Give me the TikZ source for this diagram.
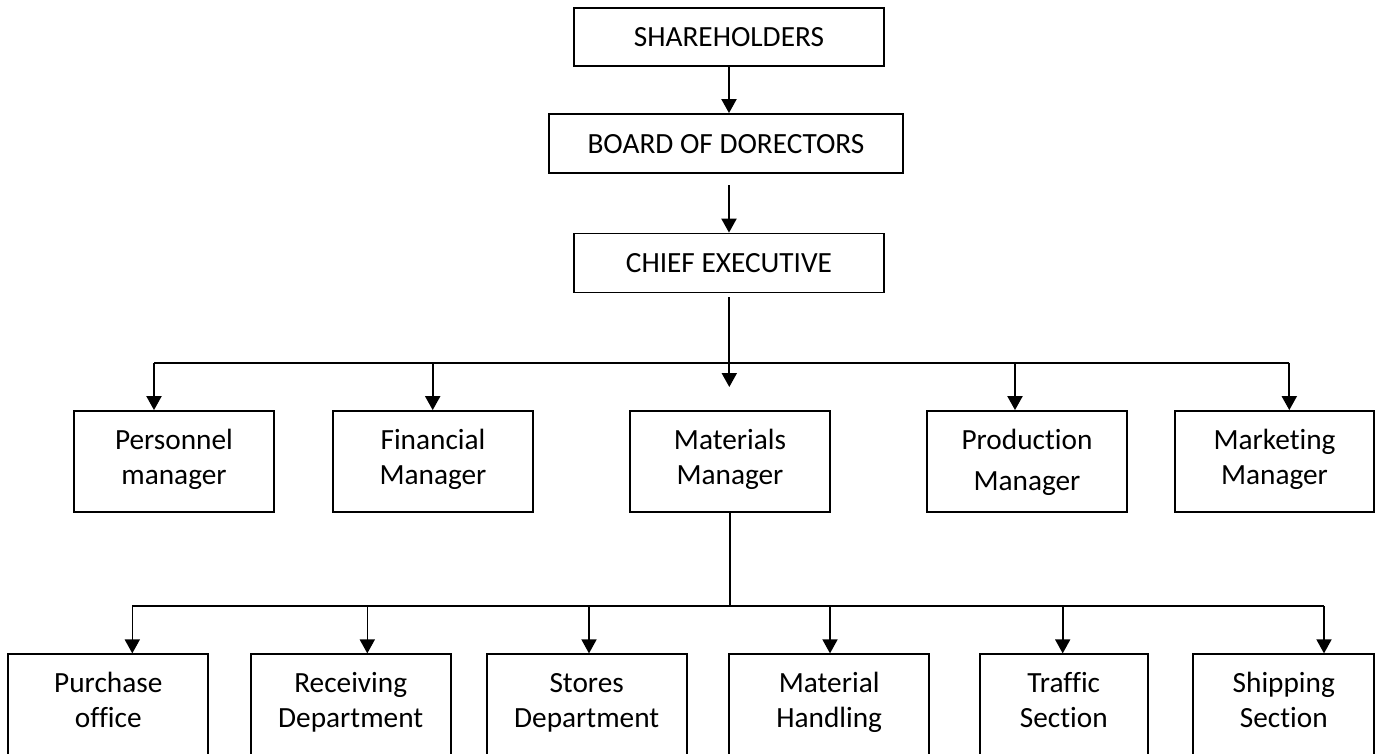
\documentclass[tikz,border=0pt]{standalone}
\usepackage{fontspec}
\setmainfont[Ligatures={NoCommon}]{Carlito}
\usetikzlibrary{arrows.meta}
\begin{document}
\begin{tikzpicture}[x=1pt,y=-1pt,
  box/.style={draw, line width=1.8pt, inner sep=0pt, align=center,
    font=\fontsize{29.3}{35}\selectfont},
  headbox/.style={box, minimum width=310pt, minimum height=58pt,
    text height=19pt, text depth=0pt},
  unitbox/.style={box, minimum width=200pt, minimum height=101pt,
    text height=55pt, text depth=10pt},
  deptbox/.style={box, minimum height=102pt, text height=55pt, text depth=10pt},
  link/.style={line width=2pt},
  sublink/.style={line width=1.6pt},
  arr/.style={link, -{Triangle[width=15pt,length=14pt]}},
  subarr/.style={sublink, -{Triangle[width=15pt,length=14pt]}}]
\clip (0,0) rectangle (1377,753);
\fill[white] (0,0) rectangle (1377,753);

% top of the hierarchy
\node[headbox] (sh) at (729,37) {SHAREHOLDERS};
\node[headbox, minimum width=354pt, minimum height=59pt] (bod) at (726,143.5) {BOARD OF DORECTORS};
\node[headbox, minimum height=59pt] (ce) at (729,263) {CHIEF EXECUTIVE};

% managers
\node[unitbox] (pm) at (174,461.5) {Personnel\\manager};
\node[unitbox] (fm) at (433,461.5) {Financial\\Manager};
\node[unitbox] (mm) at (730,461.5) {Materials\\Manager};
\node[unitbox, text height=61pt, text depth=4pt] (prm) at (1027,461.5) {Production\\[6pt]Manager};
\node[unitbox, minimum width=199pt] (mkm) at (1274.5,461.5) {Marketing\\Manager};

% departments under the materials manager
\node[deptbox, minimum width=200pt] (po) at (108.3,705.3) {Purchase\\office};
\node[deptbox, minimum width=200pt] (rd) at (350.7,705.3) {Receiving\\Department};
\node[deptbox, minimum width=200pt] (sd) at (586.7,705.3) {Stores\\Department};
\node[deptbox, minimum width=200pt] (mh) at (829.2,705.3) {Material\\Handling};
\node[deptbox, minimum width=168pt] (ts) at (1063.8,705.3) {Traffic\\Section};
\node[deptbox, minimum width=181pt] (ss) at (1283.8,705.3) {Shipping\\Section};

% chain of command at the top
\coordinate (bodout) at (729,185);
\coordinate (ceout) at (729.3,297);
\coordinate (mmtip) at (729.3,387);
\draw[arr] (sh.south) -- (sh.south |- bod.north);
\draw[arr] (bodout) -- (bodout |- ce.north);
\draw[arr] (ceout) -- (mmtip);

% manager bus
\coordinate (bpm) at (154,362.7);
\coordinate (bfm) at (432.7,362.7);
\coordinate (bprm) at (1015,362.7);
\coordinate (bmkm) at (1289.3,362.7);
\draw[link] (bpm) -- (bmkm);
\draw[arr] (bpm) -- (bpm |- pm.north);
\draw[arr] (bfm) -- (bfm |- fm.north);
\draw[arr] (bprm) -- (bprm |- prm.north);
\draw[arr] (bmkm) -- (bmkm |- mkm.north);

% department bus
\coordinate (cpo) at (132.3,606);
\coordinate (crd) at (367.3,606);
\coordinate (csd) at (589,606);
\coordinate (cmh) at (830,606);
\coordinate (cts) at (1062.7,606);
\coordinate (css) at (1324,606);
\draw[sublink] (mm.south) -- (mm.south |- cpo);
\draw[sublink] (cpo) -- (css);
\draw[subarr] (cpo) -- (cpo |- po.north);
\draw[subarr] (crd) -- (crd |- rd.north);
\draw[subarr] (csd) -- (csd |- sd.north);
\draw[subarr] (cmh) -- (cmh |- mh.north);
\draw[subarr] (cts) -- (cts |- ts.north);
\draw[subarr] (css) -- (css |- ss.north);
\end{tikzpicture}
\end{document}
